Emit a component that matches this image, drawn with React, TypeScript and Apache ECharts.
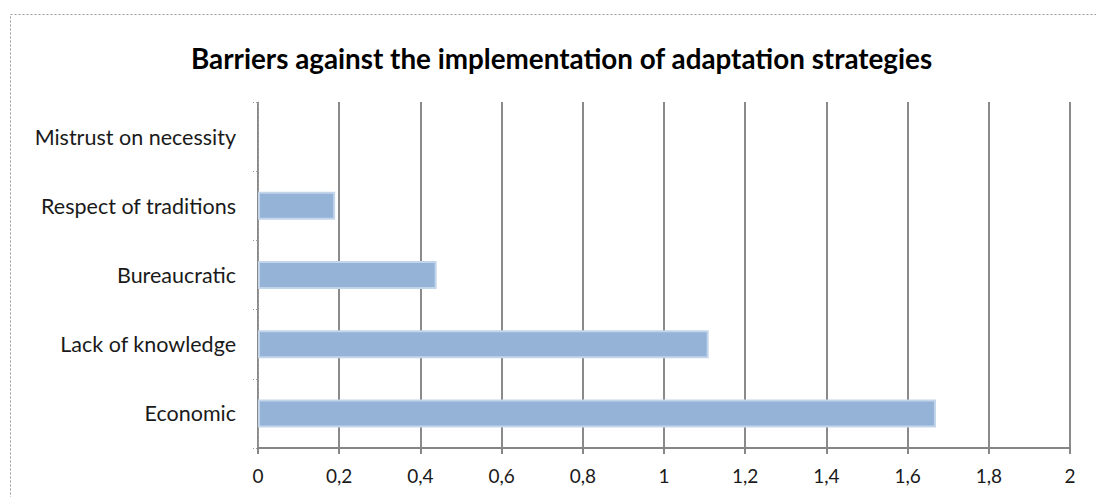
import React, { useEffect, useRef } from "react";
import * as echarts from "echarts";

// Barrier categories, bottom to top as they appear on the axis
const categories = [
  "Economic",
  "Lack of knowledge",
  "Bureaucratic",
  "Respect of traditions",
  "Mistrust on necessity",
];

// Average score per barrier
const values = [1.67, 1.11, 0.44, 0.19, 0];

const titleText = "Barriers against the implementation of adaptation strategies";

const FONT = "Lato, 'Liberation Sans', sans-serif";

export default function App() {
  const ref = useRef<HTMLDivElement>(null);

  useEffect(() => {
    if (!ref.current) return;
    const chart = echarts.init(ref.current, null, { renderer: "svg" });
    chart.setOption({
      animation: false,
      backgroundColor: "#ffffff",
      textStyle: { fontFamily: FONT },
      title: {
        text: titleText,
        left: 186,
        top: 39,
        textStyle: {
          fontFamily: FONT,
          fontSize: 27.8,
          fontWeight: "bold",
          color: "#000000",
        },
      },
      graphic: [
        {
          type: "rect",
          shape: { x: 10.5, y: 14.5, width: 1200, height: 600 },
          style: {
            fill: "none",
            stroke: "#9a9a9a",
            lineWidth: 1,
            lineDash: [2, 2],
          },
          silent: true,
        },
      ],
      grid: { left: 258, right: 26, top: 102, bottom: 49 },
      xAxis: {
        type: "value",
        min: 0,
        max: 2,
        interval: 0.2,
        axisLine: { show: true, lineStyle: { color: "#868686", width: 2 } },
        axisTick: { show: true, length: 6, lineStyle: { color: "#868686", width: 2 } },
        axisLabel: {
          fontFamily: FONT,
          fontSize: 19,
          color: "#1a1a1a",
          margin: 18,
          formatter: (v: number) =>
            String(Math.round(v * 10) / 10).replace(".", ","),
        },
        splitLine: { show: true, lineStyle: { color: "#8a8a8a", width: 2 } },
      },
      yAxis: {
        type: "category",
        data: categories,
        axisLine: {
          show: true,
          lineStyle: { color: "#9a9a9a", width: 1, type: [2, 2] },
        },
        axisTick: {
          show: true,
          length: 5,
          lineStyle: { color: "#9a9a9a", width: 1, type: [2, 2] },
        },
        axisLabel: {
          fontFamily: FONT,
          fontSize: 21.5,
          color: "#1a1a1a",
          margin: 22,
        },
        splitLine: { show: false },
      },
      series: [
        {
          type: "bar",
          data: values.map((v) =>
            v === 0 ? { value: v, itemStyle: { borderWidth: 0 } } : v
          ),
          barWidth: 28,
          itemStyle: {
            color: "#95B3D7",
            borderColor: "#C3D5EB",
            borderWidth: 2,
          },
        },
      ],
    });
    return () => chart.dispose();
  }, []);

  return (
    <div
      ref={ref}
      style={{ position: "fixed", left: 0, top: 0, width: 1096, height: 497 }}
    />
  );
}
